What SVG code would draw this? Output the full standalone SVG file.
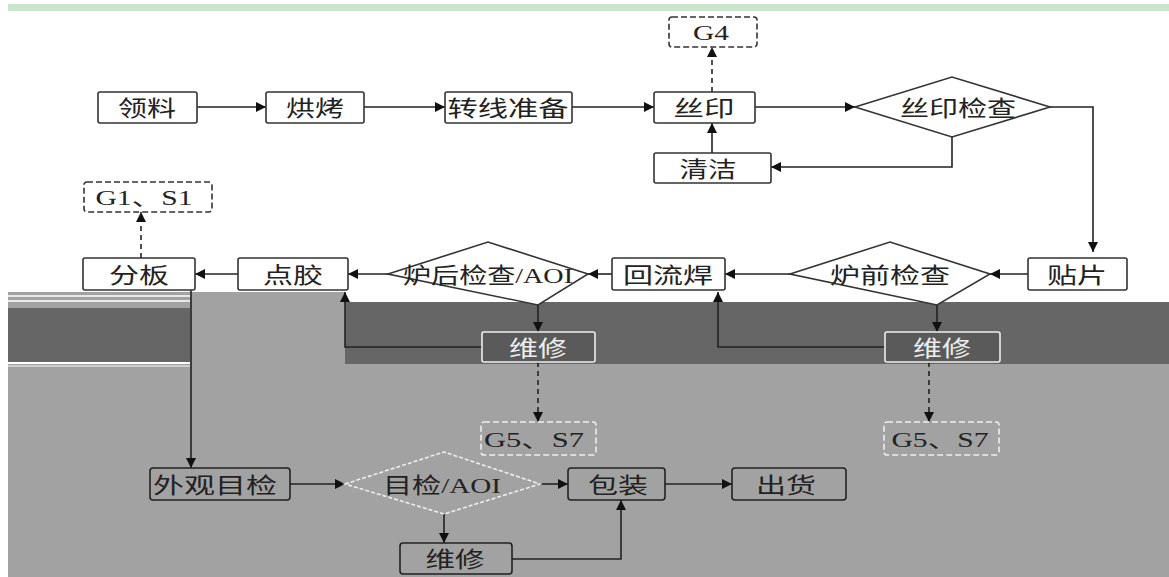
<svg xmlns="http://www.w3.org/2000/svg" width="1169" height="577" viewBox="0 0 1169 577">
<defs>
<marker id="ah" viewBox="0 0 10 10" refX="10" refY="5" markerWidth="10" markerHeight="10" markerUnits="userSpaceOnUse" orient="auto"><path d="M0,0 L10,5 L0,10 z" fill="#111"/></marker>
<style>
.bx{fill:#fff;stroke:#333;stroke-width:1.6}
.bxg{fill:none;stroke:#222;stroke-width:1.6}
.dk{fill:#fff;stroke:#333;stroke-width:1.6;stroke-dasharray:6,3}
.dkg{fill:none;stroke:#222;stroke-width:1.6;stroke-dasharray:6,3}
.t{font-family:"Liberation Serif","Noto Sans CJK SC",serif;font-size:22px;fill:#222;text-anchor:middle;dominant-baseline:central}
.tl{font-family:"Liberation Serif","Noto Sans CJK SC",serif;font-size:21px;fill:#222;text-anchor:middle;dominant-baseline:central}
.c{fill:none;stroke:#222;stroke-width:1.6}
.cd{fill:none;stroke:#222;stroke-width:1.6;stroke-dasharray:5,4}
</style>
</defs>
<rect x="0" y="0" width="1169" height="577" fill="#fff"/>
<rect x="8" y="4" width="1161" height="7" fill="#c9e6cc"/>
<rect x="8" y="364" width="1161" height="213" fill="#a2a2a2"/>
<rect x="190" y="292" width="155" height="72" fill="#a2a2a2"/>
<rect x="8" y="292" width="182" height="16" fill="#a2a2a2"/>
<rect x="8" y="308" width="182" height="54" fill="#666"/>
<rect x="345" y="302" width="824" height="62" fill="#666"/>
<line x1="8" y1="296" x2="190" y2="296" stroke="#fff" stroke-width="1.5"/>
<line x1="8" y1="301" x2="190" y2="301" stroke="#fff" stroke-width="1.5"/>
<line x1="8" y1="366" x2="190" y2="366" stroke="#ddd" stroke-width="1.5"/>

<g id="connectors">
<line class="c" x1="197" y1="107" x2="266" y2="107" marker-end="url(#ah)"/>
<line class="c" x1="364" y1="107" x2="445" y2="107" marker-end="url(#ah)"/>
<line class="c" x1="572" y1="107" x2="654" y2="107" marker-end="url(#ah)"/>
<line class="c" x1="755" y1="107" x2="855" y2="107" marker-end="url(#ah)"/>
<line class="cd" x1="712" y1="92" x2="712" y2="47" marker-end="url(#ah)"/>
<polyline class="c" points="952,137 952,167 771,167" marker-end="url(#ah)"/>
<line class="c" x1="712" y1="153" x2="712" y2="123" marker-end="url(#ah)"/>
<polyline class="c" points="1050,107 1093,107 1093,252" marker-end="url(#ah)"/>
<line class="cd" x1="141" y1="258" x2="141" y2="212" marker-end="url(#ah)"/>
<line class="c" x1="1028" y1="274" x2="990" y2="274" marker-end="url(#ah)"/>
<line class="c" x1="790" y1="274" x2="725" y2="274" marker-end="url(#ah)"/>
<line class="c" x1="612" y1="274" x2="588" y2="274" marker-end="url(#ah)"/>
<line class="c" x1="388" y1="274" x2="348" y2="274" marker-end="url(#ah)"/>
<line class="c" x1="238" y1="274" x2="195" y2="274" marker-end="url(#ah)"/>
<line class="c" x1="538" y1="305" x2="538" y2="332" marker-end="url(#ah)"/>
<line class="c" x1="937" y1="305" x2="937" y2="332" marker-end="url(#ah)"/>
<polyline class="c" points="482,347 345,347 345,292" marker-end="url(#ah)"/>
<polyline class="c" points="885,347 718,347 718,292" marker-end="url(#ah)"/>
<line class="cd" x1="538" y1="362" x2="538" y2="422" marker-end="url(#ah)"/>
<line class="cd" x1="929" y1="362" x2="929" y2="422" marker-end="url(#ah)"/>
<line class="c" x1="191" y1="290" x2="191" y2="468" marker-end="url(#ah)"/>
<line class="c" x1="290" y1="484" x2="345" y2="484" marker-end="url(#ah)"/>
<line class="c" x1="540" y1="484" x2="568" y2="484" marker-end="url(#ah)"/>
<line class="c" x1="665" y1="484" x2="732" y2="484" marker-end="url(#ah)"/>
<line class="c" x1="444" y1="514" x2="444" y2="543" marker-end="url(#ah)"/>
<polyline class="c" points="512,559 621,559 621,500" marker-end="url(#ah)"/>
</g>

<g id="n-lingliao"><rect class="bx" x="98" y="92" width="99" height="31" rx="2"/><text class="t" x="147" y="108" textLength="58" lengthAdjust="spacingAndGlyphs">领料</text></g>
<g id="n-hongkao"><rect class="bx" x="266" y="92" width="98" height="31" rx="2"/><text class="t" x="315" y="108" textLength="58" lengthAdjust="spacingAndGlyphs">烘烤</text></g>
<g id="n-zhuanxian"><rect class="bx" x="445" y="92" width="127" height="31" rx="2"/><text class="t" x="508" y="108" textLength="121" lengthAdjust="spacingAndGlyphs">转线准备</text></g>
<g id="n-siyin"><rect class="bx" x="654" y="92" width="101" height="31" rx="2"/><text class="t" x="704" y="108" textLength="61" lengthAdjust="spacingAndGlyphs">丝印</text></g>
<g id="n-g4"><rect class="dk" x="669" y="17" width="88" height="30" rx="3"/><text class="tl" x="711" y="33" textLength="36" lengthAdjust="spacingAndGlyphs">G4</text></g>
<g id="n-siyinjc"><polygon class="bx" points="855,107 952,77 1050,107 952,137"/><text class="t" x="958" y="108" textLength="116" lengthAdjust="spacingAndGlyphs">丝印检查</text></g>
<g id="n-qingjie"><rect class="bx" x="654" y="153" width="117" height="30" rx="2"/><text class="t" x="708" y="169" textLength="57" lengthAdjust="spacingAndGlyphs">清洁</text></g>
<g id="n-g1s1"><rect class="dk" x="84" y="182" width="128" height="30" rx="3"/><text class="tl" x="144" y="198" textLength="97" lengthAdjust="spacingAndGlyphs">G1、S1</text></g>

<g id="n-fenban"><rect class="bx" x="83" y="258" width="112" height="32" rx="2"/><text class="t" x="139" y="275" textLength="60" lengthAdjust="spacingAndGlyphs">分板</text></g>
<g id="n-b"><rect class="bx" x="238" y="258" width="110" height="32" rx="2"/><text class="t" x="293" y="275" textLength="60" lengthAdjust="spacingAndGlyphs">点胶</text></g>
<g id="n-aoi1"><polygon class="bx" points="388,274 488,242 588,274 538,305"/><text class="t" x="488" y="275" textLength="170" lengthAdjust="spacingAndGlyphs">炉后检查/AOI</text></g>
<g id="n-huiliu"><rect class="bx" x="612" y="258" width="113" height="32" rx="2"/><text class="t" x="668" y="275" textLength="90" lengthAdjust="spacingAndGlyphs">回流焊</text></g>
<g id="n-luqian"><polygon class="bx" points="790,274 890,242 990,274 937,305"/><text class="t" x="890" y="275" textLength="120" lengthAdjust="spacingAndGlyphs">炉前检查</text></g>
<g id="n-tiepian"><rect class="bx" x="1028" y="258" width="99" height="32" rx="2"/><text class="t" x="1077" y="275" textLength="60" lengthAdjust="spacingAndGlyphs">贴片</text></g>

<g id="n-weixiu1"><rect x="482" y="332" width="113" height="30" rx="2" fill="#5a5a5a" stroke="#eee" stroke-width="1.6"/><text class="t" x="538" y="348" textLength="58" lengthAdjust="spacingAndGlyphs" style="fill:#eee">维修</text></g>
<g id="n-weixiu2"><rect x="885" y="332" width="115" height="30" rx="2" fill="#5a5a5a" stroke="#eee" stroke-width="1.6"/><text class="t" x="942" y="348" textLength="58" lengthAdjust="spacingAndGlyphs" style="fill:#eee">维修</text></g>
<g id="n-g5s7a"><rect class="dkg" x="481" y="422" width="115" height="33" rx="3" style="stroke:#eee"/><text class="tl" x="534" y="440" textLength="100" lengthAdjust="spacingAndGlyphs">G5、S7</text></g>
<g id="n-g5s7b"><rect class="dkg" x="884" y="422" width="115" height="33" rx="3" style="stroke:#eee"/><text class="tl" x="940" y="440" textLength="97" lengthAdjust="spacingAndGlyphs">G5、S7</text></g>

<g id="n-waiguan"><rect class="bxg" x="150" y="468" width="140" height="32" rx="3"/><text class="t" x="215" y="485" textLength="124" lengthAdjust="spacingAndGlyphs">外观目检</text></g>
<g id="n-aoi2"><polygon class="bxg" points="345,484 444,452 540,484 444,514" style="stroke:#eee;stroke-dasharray:4,2"/><text class="t" x="442" y="485" textLength="118" lengthAdjust="spacingAndGlyphs">目检/AOI</text></g>
<g id="n-baozhuang"><rect class="bxg" x="568" y="468" width="97" height="32" rx="3"/><text class="t" x="618" y="485" textLength="60" lengthAdjust="spacingAndGlyphs">包装</text></g>
<g id="n-chuhuo"><rect class="bxg" x="732" y="468" width="114" height="32" rx="3"/><text class="t" x="786" y="485" textLength="60" lengthAdjust="spacingAndGlyphs">出货</text></g>
<g id="n-weixiu3"><rect class="bxg" x="400" y="543" width="112" height="31" rx="3"/><text class="t" x="455" y="559" textLength="59" lengthAdjust="spacingAndGlyphs">维修</text></g>
</svg>
